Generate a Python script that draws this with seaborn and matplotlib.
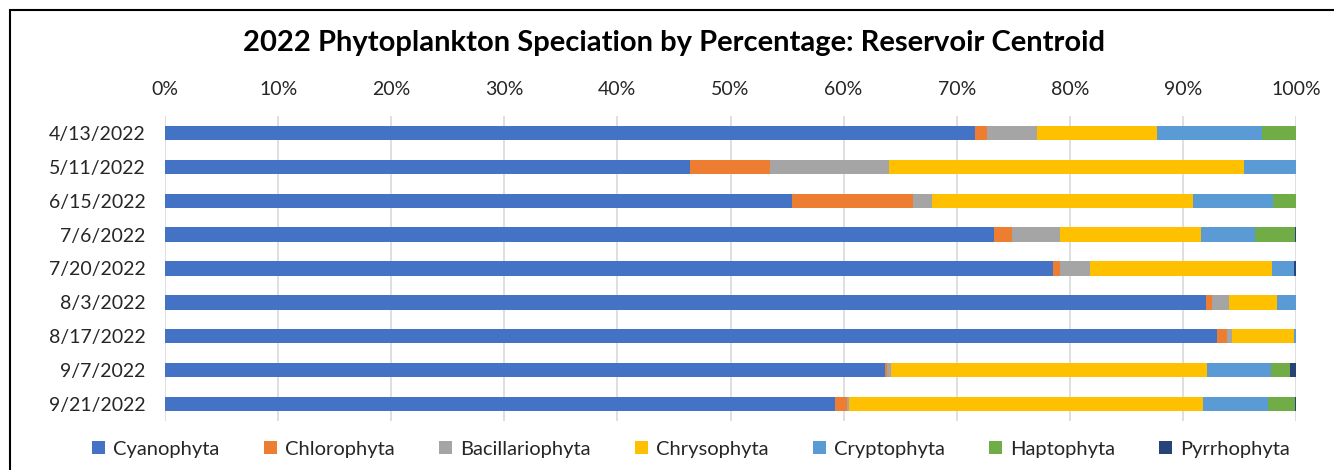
import matplotlib
matplotlib.use("Agg")
import matplotlib.pyplot as plt
import seaborn as sns
import pandas as pd
import numpy as np
from matplotlib.patches import Patch, Rectangle
from matplotlib.ticker import PercentFormatter

dates = ["4/13/2022", "5/11/2022", "6/15/2022", "7/6/2022", "7/20/2022",
         "8/3/2022", "8/17/2022", "9/7/2022", "9/21/2022"]
cyanophyta      = [71.6, 46.4, 55.4, 73.3, 78.5, 92.0, 93.0, 63.7, 59.2]
chlorophyta     = [1.1, 7.1, 10.7, 1.6, 0.6, 0.6, 0.9, 0.1, 1.1]
bacillariophyta = [4.4, 10.5, 1.7, 4.2, 2.7, 1.5, 0.4, 0.4, 0.2]
chrysophyta     = [10.6, 31.4, 23.1, 12.5, 16.1, 4.2, 5.5, 27.9, 31.3]
cryptophyta     = [9.3, 4.6, 7.1, 4.8, 1.9, 1.7, 0.2, 5.7, 5.7]
haptophyta      = [3.0, 0.0, 2.0, 3.5, 0.0, 0.0, 0.0, 1.7, 2.4]
pyrrhophyta     = [0.0, 0.0, 0.0, 0.1, 0.2, 0.0, 0.0, 0.5, 0.1]

groups = ["Cyanophyta", "Chlorophyta", "Bacillariophyta", "Chrysophyta",
          "Cryptophyta", "Haptophyta", "Pyrrhophyta"]
colors = ["#4472C4", "#ED7D31", "#A5A5A5", "#FFC000", "#5B9BD5", "#70AD47", "#264478"]

df = pd.DataFrame({"date": dates, "Cyanophyta": cyanophyta, "Chlorophyta": chlorophyta,
                   "Bacillariophyta": bacillariophyta, "Chrysophyta": chrysophyta,
                   "Cryptophyta": cryptophyta, "Haptophyta": haptophyta,
                   "Pyrrhophyta": pyrrhophyta})
vals = df[groups]
shares = vals.div(vals.sum(axis=1), axis=0)
cum = shares.cumsum(axis=1)

sns.set_theme(style="white")
plt.rcParams["font.family"] = ["Lato", "DejaVu Sans"]

fig = plt.figure(figsize=(13.34, 4.70), dpi=100)
ax = fig.add_axes([165/1334, 1-421/470, (1296-165)/1334, (421-116)/470])

for g, c in reversed(list(zip(groups, colors))):
    sns.barplot(x=cum[g].values, y=df["date"], orient="h", color=c,
                width=0.42, ax=ax, saturation=1, linewidth=0, zorder=3)

ax.set_xlim(0, 1)
ax.xaxis.set_major_formatter(PercentFormatter(1.0, decimals=0))
ax.set_xticks(np.arange(0, 1.01, 0.1))
ax.xaxis.tick_top()
ax.tick_params(axis="x", length=0, pad=13, labelsize=14, colors="#262626")
ax.tick_params(axis="y", length=0, pad=14, labelsize=14, colors="#262626")
ax.set_xlabel("")
ax.set_ylabel("")
ax.grid(axis="x", color="#D9D9D9", linewidth=1.2, zorder=0)
ax.set_axisbelow(True)
for s in ax.spines.values():
    s.set_visible(False)

fig.text(0.505, 1-43/470, "2022 Phytoplankton Speciation by Percentage: Reservoir Centroid",
         ha="center", va="center", fontsize=21, fontweight="bold", color="black")

handles = [Patch(facecolor=c, edgecolor="none", label=g) for g, c in zip(groups, colors)]
fig.legend(handles=handles, loc="center", bbox_to_anchor=(0.518, 1-449/470), ncol=7,
           frameon=False, fontsize=14.5, handlelength=0.65, handleheight=0.65,
           handletextpad=0.4, columnspacing=2.2, labelcolor="#262626")

fig.patches.append(Rectangle((10/1334, -0.2), 1.5, 0.2 + 460/470, transform=fig.transFigure,
                             fill=False, edgecolor="black", linewidth=1.5))

fig.savefig("out.png", dpi=100)
